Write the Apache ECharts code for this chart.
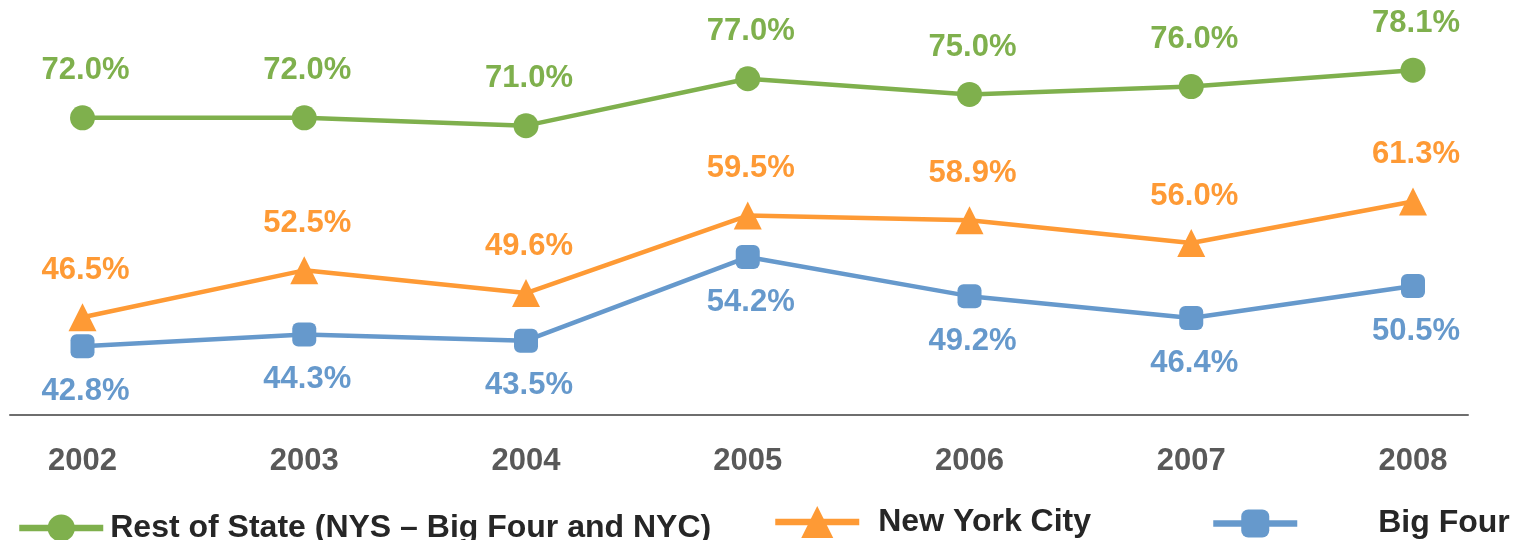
<!DOCTYPE html>
<html>
<head>
<meta charset="utf-8">
<script src="https://cdn.jsdelivr.net/npm/echarts@6/dist/echarts.min.js"></script>
<style>
html, body { margin: 0; padding: 0; background: #fff; }
#chart { width: 1513px; height: 540px; }
</style>
</head>
<body>
<div id="chart"></div>
<script>
const years = [2002, 2003, 2004, 2005, 2006, 2007, 2008];
const restOfState = [72.0, 72.0, 71.0, 77.0, 75.0, 76.0, 78.1];
const newYorkCity = [46.5, 52.5, 49.6, 59.5, 58.9, 56.0, 61.3];
const bigFour = [42.8, 44.3, 43.5, 54.2, 49.2, 46.4, 50.5];
const seriesNames = ['Rest of State (NYS \u2013 Big Four and NYC)', 'New York City', 'Big Four'];

const FONT = '"Liberation Sans", Arial, sans-serif';
const GREEN = '#7fb04d', ORANGE = '#fe9a35', BLUE = '#6699cc';

function pairs(vals) {
	return years.map((y, i) => [y, vals[i]]);
}

function makeSeries(name, vals, color, symbol, size, dy) {
	return {
		name: name,
		type: 'line',
		data: pairs(vals),
		symbol: symbol,
		symbolSize: size,
		lineStyle: { color: color, width: 4.5 },
		itemStyle: { color: color },
		label: {
			show: true,
			position: 'inside',
			offset: [3, dy],
			formatter: p => p.value[1].toFixed(1) + '%',
			color: color,
			fontFamily: FONT,
			fontWeight: 'bold',
			fontSize: 31
		},
		emphasis: { disabled: true },
		animation: false
	};
}

// one legend per series so each can sit where the original put it
function legendAt(left, centerY, iconH, name, padLeft) {
	return {
		data: [name],
		left: left,
		top: centerY - iconH / 2,
		padding: 0,
		itemWidth: 84,
		itemHeight: iconH,
		itemGap: 0,
		selectedMode: false,
		lineStyle: { width: 6.5 },
		textStyle: {
			fontFamily: FONT,
			fontWeight: 'bold',
			fontSize: 32,
			color: '#262626',
			padding: [0, 0, 0, padLeft]
		}
	};
}

const chart = echarts.init(document.getElementById('chart'));
chart.setOption({
	backgroundColor: '#fff',
	animation: false,
	grid: { left: 10, right: 45, top: 0, bottom: 125, outerBoundsMode: 'none' },
	legend: [
		legendAt(16, 529, 34, seriesNames[0], 2),
		legendAt(772, 526, 40, seriesNames[1], 14),
		legendAt(1210, 525, 35, seriesNames[2], 76)
	],
	xAxis: {
		type: 'value',
		min: 2001.673,
		max: 2008.248,
		splitLine: { show: false },
		axisTick: { show: false },
		axisLine: { show: true, lineStyle: { color: '#6e6e6e', width: 2 } },
		axisLabel: {
			customValues: years,
			formatter: v => String(v),
			margin: 31,
			fontFamily: FONT,
			fontWeight: 'bold',
			fontSize: 31,
			color: '#595959'
		}
	},
	yAxis: {
		type: 'value',
		min: 34,
		max: 87.07,
		show: false
	},
	series: [
		makeSeries(seriesNames[0], restOfState, GREEN, 'circle', 25, -47),
		makeSeries(seriesNames[1], newYorkCity, ORANGE, 'triangle', 28, -47),
		makeSeries(seriesNames[2], bigFour, BLUE, 'roundRect', 24, 45)
	]
});
</script>
</body>
</html>
